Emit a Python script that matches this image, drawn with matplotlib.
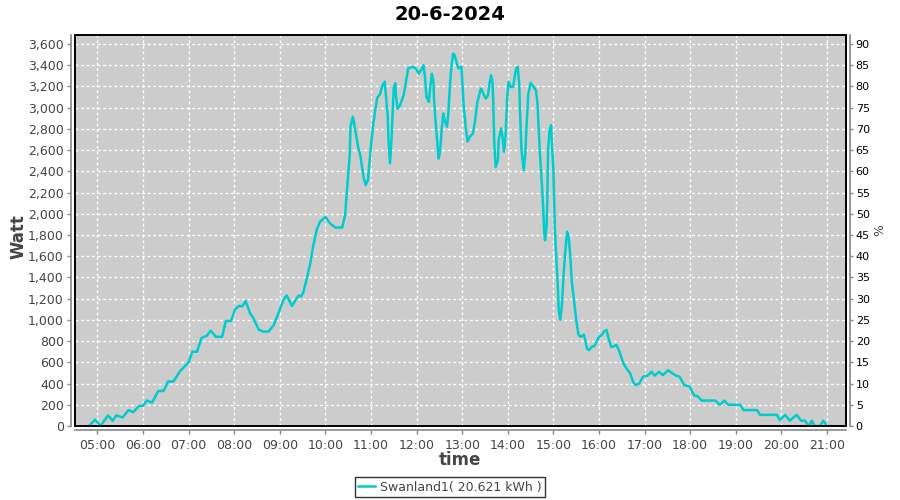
import numpy as np
import pandas as pd
import matplotlib
matplotlib.use("Agg")
import matplotlib.pyplot as plt
import matplotlib.dates as mdates
from matplotlib.ticker import FuncFormatter
from matplotlib.patches import Rectangle

# ===================================================================================
# DATA
# ===================================================================================
chart_title = "20-6-2024"
series_name = "Swanland1( 20.621 kWh )"

times = [
    "04:49", "04:57", "05:04", "05:14", "05:20", "05:25", "05:33", "05:41", "05:47", "05:55",
    "06:00", "06:05", "06:12", "06:20", "06:27", "06:33", "06:40", "06:49", "07:00", "07:05",
    "07:11", "07:17", "07:24", "07:29", "07:36", "07:44", "07:49", "07:56", "08:01", "08:06",
    "08:11", "08:15", "08:21", "08:25", "08:32", "08:38", "08:45", "08:52", "08:58", "09:05",
    "09:09", "09:16", "09:20", "09:25", "09:28", "09:31", "09:35", "09:40", "09:44", "09:49",
    "09:53", "10:00", "10:06", "10:13", "10:22", "10:26", "10:28", "10:32", "10:33", "10:36",
    "10:39", "10:43", "10:46", "10:50", "10:53", "10:56", "10:59", "11:03", "11:08", "11:12",
    "11:15", "11:18", "11:22", "11:23", "11:25", "11:27", "11:30", "11:32", "11:33", "11:35",
    "11:38", "11:43", "11:46", "11:49", "11:54", "11:59", "12:03", "12:07", "12:09", "12:11",
    "12:13", "12:16", "12:18", "12:20", "12:22", "12:23", "12:25", "12:27", "12:29", "12:31",
    "12:33", "12:35", "12:37", "12:40", "12:42", "12:44", "12:46", "12:48", "12:50", "12:53",
    "12:55", "12:57", "12:59", "13:00", "13:02", "13:05", "13:07", "13:10", "13:14", "13:17",
    "13:20", "13:24", "13:25", "13:28", "13:31", "13:34", "13:36", "13:38", "13:40", "13:41",
    "13:42", "13:44", "13:47", "13:48", "13:51", "13:53", "13:55", "13:57", "13:59", "14:01",
    "14:04", "14:07", "14:09", "14:11", "14:13", "14:15", "14:16", "14:18", "14:21", "14:23",
    "14:25", "14:27", "14:30", "14:34", "14:37", "14:39", "14:41", "14:42", "14:44", "14:46",
    "14:48", "14:49", "14:51", "14:52", "14:53", "14:55", "14:57", "14:58", "15:00", "15:01",
    "15:02", "15:04", "15:06", "15:07", "15:09", "15:11", "15:13", "15:15", "15:17", "15:18",
    "15:20", "15:22", "15:24", "15:26", "15:28", "15:30", "15:33", "15:36", "15:40", "15:42",
    "15:44", "15:47", "15:50", "15:54", "15:57", "16:00", "16:04", "16:07", "16:10", "16:12",
    "16:16", "16:19", "16:23", "16:27", "16:32", "16:36", "16:41", "16:45", "16:48", "16:53",
    "16:58", "17:04", "17:09", "17:13", "17:19", "17:24", "17:31", "17:36", "17:41", "17:46",
    "17:52", "17:59", "18:05", "18:10", "18:15", "18:22", "18:33", "18:39", "18:45", "18:50",
    "18:57", "19:06", "19:10", "19:17", "19:28", "19:32", "19:41", "19:54", "19:58", "20:05",
    "20:11", "20:20", "20:26", "20:31", "20:36", "20:40", "20:44", "20:51", "20:55", "21:00",
    "21:06",
]

watts = [
    0, 60, 0, 100, 50, 100, 80, 150, 130, 190,
    190, 240, 220, 330, 330, 420, 420, 520, 600, 700,
    700, 830, 850, 900, 840, 840, 990, 990, 1100, 1130,
    1130, 1180, 1060, 1020, 910, 890, 890, 950, 1060, 1190,
    1230, 1130, 1180, 1230, 1220, 1260, 1375, 1530, 1700, 1860,
    1925, 1970, 1910, 1870, 1870, 1990, 2190, 2550, 2820, 2915,
    2805, 2630, 2550, 2350, 2270, 2320, 2570, 2850, 3090, 3130,
    3210, 3245, 2915, 2695, 2475, 2710, 3195, 3230, 3100, 2990,
    3020, 3120, 3245, 3370, 3385, 3370, 3320, 3370, 3400, 3290,
    3100, 3055, 3195, 3320, 3260, 3070, 2865, 2695, 2520, 2600,
    2790, 2945, 2880, 2820, 2975, 3230, 3400, 3510, 3495, 3415,
    3370, 3385, 3385, 3260, 3010, 2790, 2680, 2725, 2755, 2880,
    3055, 3165, 3180, 3130, 3085, 3120, 3230, 3305, 3230, 3010,
    2695, 2440, 2505, 2695, 2805, 2725, 2585, 2725, 3070, 3245,
    3195, 3195, 3290, 3370, 3385, 3230, 2975, 2600, 2410, 2570,
    2880, 3130, 3235, 3195, 3165, 3040, 2755, 2600, 2380, 2130,
    1815, 1750, 1880, 2160, 2600, 2790, 2835, 2665, 2410, 2130,
    1845, 1565, 1280, 1095, 1000, 1125, 1375, 1595, 1750, 1830,
    1785, 1625, 1375, 1250, 1125, 1000, 860, 840, 860, 810,
    730, 715, 745, 755, 795, 840, 860, 895, 905, 840,
    745, 750, 765, 700, 590, 545, 495, 415, 385, 400,
    465, 475, 510, 475, 510, 480, 525, 500, 475, 465,
    385, 375, 290, 280, 240, 240, 240, 200, 240, 200,
    200, 200, 150, 150, 150, 105, 105, 105, 55, 105,
    50, 105, 50, 50, 0, 50, 0, 0, 50, 0,
    0,
]

watt_ticks = list(range(0, 3601, 200))
pct_ticks = list(range(0, 91, 5))

# ===================================================================================
# PLOT
# ===================================================================================
day = "2024-06-20 "
t = pd.to_datetime([day + s for s in times])

line_color = "#00CCCC"
bg_color = "#CCCCCC"
label_color = "#444444"
axis_color = "#888888"

fig = plt.figure(figsize=(9, 5), dpi=100)
ax = fig.add_axes([75/900, 1 - 426/500, (846 - 75)/900, (426 - 35)/500])
ax.set_facecolor(bg_color)

ax.plot(t, watts, color=line_color, lw=1.8)

y_max = 3685
ax.set_ylim(0, y_max)
ax.set_xlim(pd.Timestamp(day + "04:30:30"), pd.Timestamp(day + "21:25"))
ax.set_yticks(watt_ticks)
ax.yaxis.set_major_formatter(FuncFormatter(lambda v, p: "{:,}".format(int(v))))
ax.xaxis.set_major_locator(mdates.HourLocator(byhour=range(5, 22)))
ax.xaxis.set_major_formatter(mdates.DateFormatter("%H:%M"))

ax.grid(True, color="white", linestyle=(0, (2, 2)), linewidth=1.0)
ax.set_axisbelow(True)

# grey axis lines sitting just outside a dark plot outline
for side in ["left", "bottom", "right", "top"]:
    ax.spines[side].set_visible(False)
for side in ["left", "bottom"]:
    ax.spines[side].set_visible(True)
    ax.spines[side].set_position(("outward", 3))
    ax.spines[side].set_color(axis_color)
    ax.spines[side].set_linewidth(1.2)
ax.add_patch(Rectangle((0, 0), 1, 1, transform=ax.transAxes, fill=False,
                       edgecolor="black", linewidth=1.4, clip_on=False, zorder=5))

ax.tick_params(axis="both", direction="out", length=3, width=1, color=axis_color,
               labelcolor=label_color, labelsize=9)
ax.tick_params(axis="y", pad=2)

fig.text(19/900, 1 - 237/500, "Watt", fontsize=12, fontweight="bold", color=label_color,
         rotation=90, ha="center", va="center")
fig.text(460/900, 1 - 460/500, "time", fontsize=12, fontweight="bold",
         color=label_color, ha="center", va="center")
fig.text(450/900, 1 - 15/500, chart_title, fontsize=14, fontweight="bold",
         ha="center", va="center")

# right axis in percent
ax2 = ax.twinx()
ax2.set_ylim(0, y_max / 40.0)
ax2.set_yticks(pct_ticks)
for side in ["left", "bottom", "top"]:
    ax2.spines[side].set_visible(False)
ax2.spines["right"].set_position(("outward", 3))
ax2.spines["right"].set_color(axis_color)
ax2.spines["right"].set_linewidth(1.2)
ax2.tick_params(axis="y", direction="out", length=2, width=1, color=axis_color,
                labelcolor="black", labelsize=8, pad=2)
fig.text(880/900, 1 - 230/500, "%", fontsize=9, color=label_color,
         rotation=90, ha="center", va="center")

leg = fig.legend([ax.lines[0]], [series_name], loc="center", bbox_to_anchor=(450/900, 1 - 487/500),
                 frameon=True, fancybox=False, edgecolor="black", fontsize=9,
                 handlelength=1.4, handletextpad=0.4, borderpad=0.25, labelcolor=label_color)
leg.get_frame().set_linewidth(1.0)

fig.savefig("out.png", dpi=100)
